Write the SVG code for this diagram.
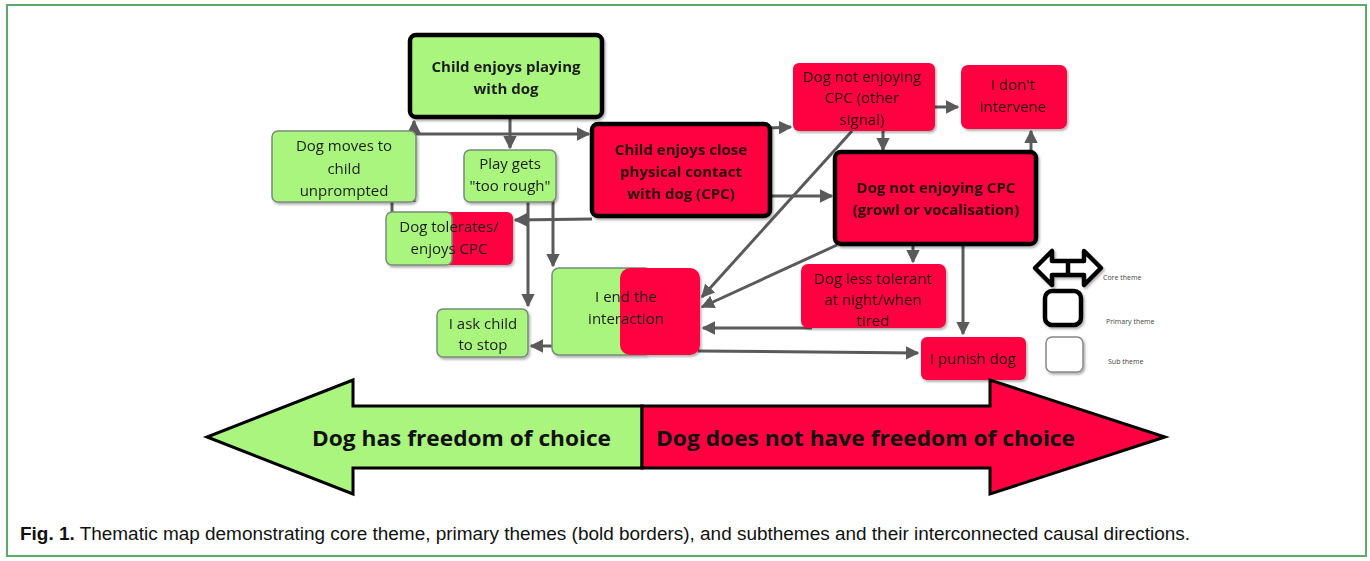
<svg xmlns="http://www.w3.org/2000/svg" width="1370" height="561" viewBox="0 0 1370 561">
<style>
.g{fill:#a9f57d}
.r{fill:#ff0040}
.thin{stroke:#7a8a7a;stroke-width:1.5}
.thick{stroke:#000;stroke-width:4.5}
.t{font-family:"Open Sans","Noto Sans",sans-serif;font-size:15px;fill:#1e1e1e;text-anchor:middle}
.tr{fill:#2b0010}
.b{font-weight:bold}
.c{stroke:#5a5a5a;stroke-width:3;fill:none}
.leg{font-family:"Open Sans","Noto Sans",sans-serif;font-size:7px;fill:#444}
</style>
<defs>
<marker id="ah" viewBox="0 0 10 10" refX="9" refY="5" markerWidth="4.5" markerHeight="4.5" orient="auto" markerUnits="strokeWidth">
<path d="M0,0 L10,5 L0,10 z" fill="#5a5a5a"/>
</marker>
<filter id="sh" x="-10%" y="-10%" width="130%" height="140%">
<feDropShadow dx="1.5" dy="2" stdDeviation="1.2" flood-color="#000" flood-opacity="0.3"/>
</filter>
</defs>
<rect x="7" y="5" width="1359" height="551" fill="#fff" stroke="#5da86a" stroke-width="2"/>

<g id="connectors">
<path class="c" d="M414,202 L414,121" marker-end="url(#ah)"/>
<path class="c" d="M414,134 L589,134" marker-end="url(#ah)"/>
<path class="c" d="M392,202 L392,212"/>
<path class="c" d="M510,117 L510,148" marker-end="url(#ah)"/>
<path class="c" d="M528,200 L528,306" marker-end="url(#ah)"/>
<path class="c" d="M553,200 L553,266" marker-end="url(#ah)"/>
<path class="c" d="M592,219 L515,220" marker-end="url(#ah)"/>
<path class="c" d="M770,128 L791,127" marker-end="url(#ah)"/>
<path class="c" d="M770,196 L832,196" marker-end="url(#ah)"/>
<path class="c" d="M935,107 L958,107" marker-end="url(#ah)"/>
<path class="c" d="M883,131 L883,150" marker-end="url(#ah)"/>
<path class="c" d="M1031,152 L1031,131" marker-end="url(#ah)"/>
<path class="c" d="M852,131 L702,297" marker-end="url(#ah)"/>
<path class="c" d="M837,245 L702,307" marker-end="url(#ah)"/>
<path class="c" d="M812,328 L703,328" marker-end="url(#ah)"/>
<path class="c" d="M913,244 L913,262" marker-end="url(#ah)"/>
<path class="c" d="M963,244 L963,334" marker-end="url(#ah)"/>
<path class="c" d="M698,351 L918,353" marker-end="url(#ah)"/>
<path class="c" d="M552,346 L531,346" marker-end="url(#ah)"/>
</g>

<g id="n-playing" filter="url(#sh)">
<rect x="410" y="35" width="192" height="82" rx="6" class="g thick"/>
<text class="t b" x="506" y="72">Child enjoys playing</text>
<text class="t b" x="506" y="94">with dog</text>
</g>

<g id="n-moves" filter="url(#sh)">
<rect x="272" y="131" width="144" height="71" rx="6" class="g thin"/>
<text class="t" x="344" y="151">Dog moves to</text>
<text class="t" x="344" y="174">child</text>
<text class="t" x="344" y="196">unprompted</text>
</g>

<g id="n-rough" filter="url(#sh)">
<rect x="464" y="150" width="92" height="52" rx="6" class="g thin"/>
<text class="t" x="510" y="169">Play gets</text>
<text class="t" x="510" y="191">"too rough"</text>
</g>

<g id="n-cpc" filter="url(#sh)">
<rect x="592" y="124" width="178" height="92" rx="6" class="r thick"/>
<text class="t tr b" x="681" y="155">Child enjoys close</text>
<text class="t tr b" x="681" y="177">physical contact</text>
<text class="t tr b" x="681" y="199">with dog (CPC)</text>
</g>

<g id="n-other" filter="url(#sh)">
<rect x="793" y="63" width="142" height="68" rx="6" class="r"/>
<text class="t tr" x="862" y="82">Dog not enjoying</text>
<text class="t tr" x="862" y="103">CPC (other</text>
<text class="t tr" x="862" y="125">signal)</text>
</g>

<g id="n-intervene" filter="url(#sh)">
<rect x="961" y="65" width="106" height="64" rx="7" class="r"/>
<text class="t tr" x="1013" y="90">I don't</text>
<text class="t tr" x="1013" y="112">intervene</text>
</g>

<g id="n-growl" filter="url(#sh)">
<rect x="835" y="152" width="201" height="92" rx="6" class="r thick"/>
<text class="t tr b" x="936" y="193">Dog not enjoying CPC</text>
<text class="t tr b" x="936" y="215">(growl or vocalisation)</text>
</g>

<g id="n-tolerates" filter="url(#sh)">
<rect x="420" y="212" width="93" height="53" rx="6" class="r"/>
<rect x="386" y="212" width="66" height="53" rx="6" class="g thin"/>
<text class="t" x="449" y="232">Dog tolerates/</text>
<text class="t" x="449" y="254">enjoys CPC</text>
</g>

<g id="n-end" filter="url(#sh)">
<rect x="552" y="268" width="100" height="87" rx="7" class="g thin"/>
<rect x="620" y="268" width="80" height="87" rx="10" class="r"/>
<text class="t" x="626" y="302">I end the</text>
<text class="t" x="626" y="324">interaction</text>
</g>

<g id="n-ask" filter="url(#sh)">
<rect x="437" y="309" width="91" height="48" rx="6" class="g thin"/>
<text class="t" x="483" y="329">I ask child</text>
<text class="t" x="483" y="350">to stop</text>
</g>

<g id="n-night" filter="url(#sh)">
<rect x="801" y="264" width="145" height="64" rx="7" class="r"/>
<text class="t tr" x="873" y="284">Dog less tolerant</text>
<text class="t tr" x="873" y="305">at night/when</text>
<text class="t tr" x="873" y="326">tired</text>
</g>

<g id="n-punish" filter="url(#sh)">
<rect x="921" y="337" width="105" height="43" rx="6" class="r"/>
<text class="t tr" x="973" y="364">I punish dog</text>
</g>

<g id="legend">
<path d="M1035,268 L1052,251 L1052,261 L1084,261 L1084,251 L1101,268 L1084,285 L1084,275 L1052,275 L1052,285 Z M1068,261 L1068,275" fill="#fff" stroke="#000" stroke-width="4.5" stroke-linejoin="round" filter="url(#sh)"/>
<text class="leg" x="1103" y="280">Core theme</text>
<rect x="1045" y="291" width="36" height="34" rx="7" fill="#fff" stroke="#000" stroke-width="4.5" filter="url(#sh)"/>
<text class="leg" x="1106" y="324">Primary theme</text>
<rect x="1046" y="337" width="37" height="35" rx="6" fill="#fff" stroke="#888" stroke-width="1.5" filter="url(#sh)"/>
<text class="leg" x="1108" y="364">Sub theme</text>
</g>

<g id="core-theme">
<polygon points="642,406 353,406 353,380 207,437 353,494 353,468 642,468" fill="#a9f57d" stroke="#000" stroke-width="3" stroke-linejoin="miter"/>
<polygon points="642,406 990,406 990,380 1165,437 990,494 990,468 642,468" fill="#ff0040" stroke="#000" stroke-width="3" stroke-linejoin="miter"/>
<text x="312" y="446" font-family="'Open Sans','Noto Sans',sans-serif" font-size="22" font-weight="bold" fill="#111" textLength="299" lengthAdjust="spacingAndGlyphs">Dog has freedom of choice</text>
<text x="656" y="446" font-family="'Open Sans','Noto Sans',sans-serif" font-size="22" font-weight="bold" fill="#111" textLength="419" lengthAdjust="spacingAndGlyphs">Dog does not have freedom of choice</text>
</g>

<g id="caption">
<text x="20" y="540" font-family="'Liberation Sans',Arial,sans-serif" font-size="17.5" fill="#111" textLength="1170" lengthAdjust="spacingAndGlyphs"><tspan font-weight="bold">Fig. 1.</tspan>  Thematic map demonstrating core theme, primary themes (bold borders), and subthemes and their interconnected causal directions.</text>
</g>
</svg>
